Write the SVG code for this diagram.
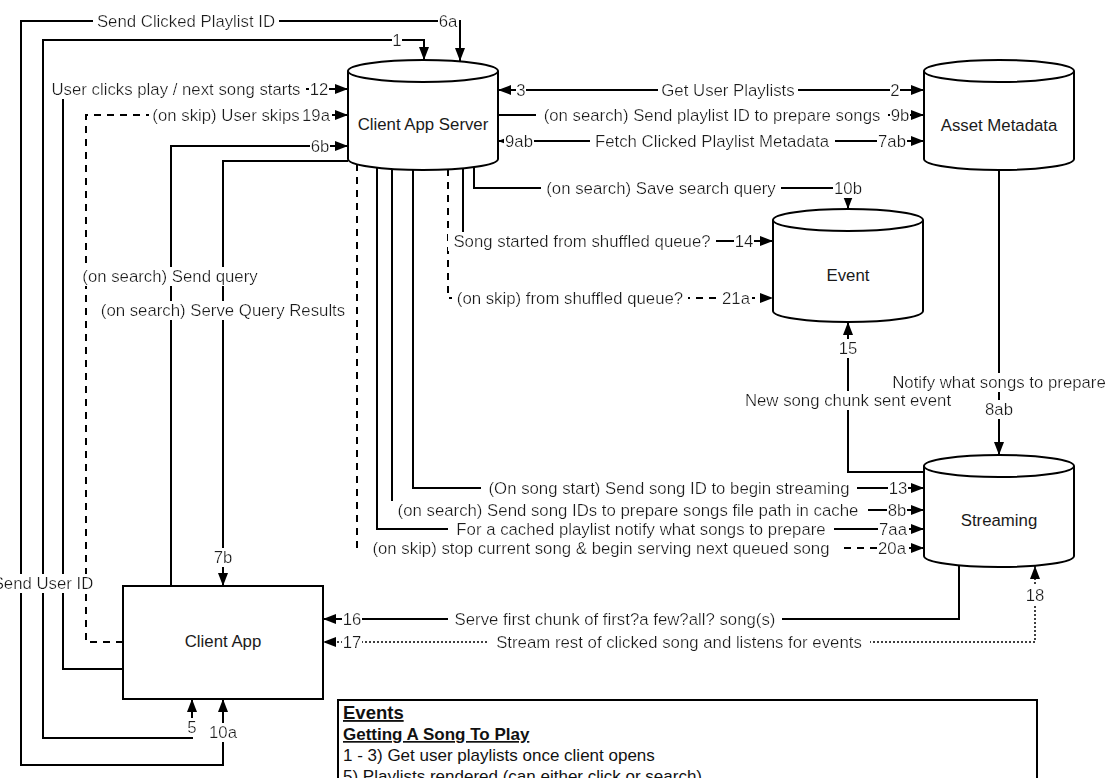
<svg xmlns="http://www.w3.org/2000/svg" width="1116" height="778" viewBox="0 0 1116 778">
<style>
.nd{fill:#fff;stroke:#000;stroke-width:2}
.ln{fill:none;stroke:#000;stroke-width:2}
.ds{stroke-dasharray:7 6}
.dt{stroke-dasharray:2 2;stroke-width:1.5}
.lb{font-family:"Liberation Sans",Arial,sans-serif;font-size:16.8px;fill:#1a1a1a;text-anchor:middle;filter:url(#bg)}
.nt{font-family:"Liberation Sans",Arial,sans-serif;font-size:16.8px;fill:#1a1a1a;text-anchor:middle}
.ev{font-family:"Liberation Sans",Arial,sans-serif;font-size:17px;fill:#111}
.evb{font-weight:bold;text-decoration:underline}
</style>
<defs>
<filter id="bg" x="-0.02" y="0" width="1.04" height="1"><feFlood flood-color="#fff"/><feComposite in="SourceGraphic"/></filter>
<marker id="ah" viewBox="0 0 13 10" refX="13" refY="5" markerWidth="13" markerHeight="10" markerUnits="userSpaceOnUse" orient="auto-start-reverse"><path d="M0,0 L13,5 L0,10 z" fill="#000"/></marker>
</defs>
<rect width="1116" height="778" fill="#fff"/>

<g id="cas">
<path class="nd" d="M348,71 A75,11 0 0 1 498,71 L498,159 A75,11 0 0 1 348,159 Z"/>
<path class="ln" d="M348,71 A75,11 0 0 0 498,71"/>
<text class="nt" x="423" y="130">Client App Server</text>
</g>
<g id="asset">
<path class="nd" d="M924,71 A75,11 0 0 1 1074,71 L1074,159 A75,11 0 0 1 924,159 Z"/>
<path class="ln" d="M924,71 A75,11 0 0 0 1074,71"/>
<text class="nt" x="999" y="131">Asset Metadata</text>
</g>
<g id="event">
<path class="nd" d="M773,220 A75,11 0 0 1 923,220 L923,311 A75,11 0 0 1 773,311 Z"/>
<path class="ln" d="M773,220 A75,11 0 0 0 923,220"/>
<text class="nt" x="848" y="281">Event</text>
</g>
<g id="streaming">
<path class="nd" d="M924,466 A75,11 0 0 1 1074,466 L1074,556 A75,11 0 0 1 924,556 Z"/>
<path class="ln" d="M924,466 A75,11 0 0 0 1074,466"/>
<text class="nt" x="999" y="526">Streaming</text>
</g>
<g id="clientapp">
<rect class="nd" x="123" y="586" width="200" height="113"/>
<text class="nt" x="223" y="647">Client App</text>
</g>
<g id="eventsbox">
<rect class="nd" x="338" y="700" width="699" height="110"/>
<text class="ev evb" x="343" y="719" style="font-size:18.5px">Events</text>
<text class="ev evb" x="343" y="740">Getting A Song To Play</text>
<text class="ev" x="343" y="761">1 - 3) Get user playlists once client opens</text>
<text class="ev" x="343" y="782">5) Playlists rendered (can either click or search)</text>
</g>

<g id="connectors">
<path class="ln" d="M223,699 L223,765 L21,765 L21,21 L460,21 L460,61" marker-start="url(#ah)" marker-end="url(#ah)"/>
<path class="ln" d="M192,699 L192,738 L43,738 L43,40 L424,40 L424,60" marker-start="url(#ah)" marker-end="url(#ah)"/>
<path class="ln" d="M123,669 L63,669 L63,89 L348,89" marker-end="url(#ah)"/>
<path class="ln ds" d="M123,642 L86,642 L86,115 L348,115" marker-end="url(#ah)"/>
<path class="ln" d="M171,586 L171,146 L348,146" marker-end="url(#ah)"/>
<path class="ln" d="M348,161 L223,161 L223,586" marker-end="url(#ah)"/>
<path class="ln" d="M498,90 L924,90" marker-start="url(#ah)" marker-end="url(#ah)"/>
<path class="ln" d="M498,115 L924,115" marker-end="url(#ah)"/>
<path class="ln" d="M498,141 L924,141" marker-start="url(#ah)" marker-end="url(#ah)"/>
<path class="ln" d="M474,167 L474,188 L848,188 L848,209" marker-end="url(#ah)"/>
<path class="ln" d="M463,168 L463,241 L773,241" marker-end="url(#ah)"/>
<path class="ln ds" d="M448,169 L448,298 L773,298" marker-end="url(#ah)"/>
<path class="ln" d="M413,170 L413,488 L924,488" marker-end="url(#ah)"/>
<path class="ln" d="M392,169 L392,510 L924,510" marker-end="url(#ah)"/>
<path class="ln" d="M377,168 L377,529 L924,529" marker-end="url(#ah)"/>
<path class="ln ds" d="M357,164 L357,548 L924,548" marker-end="url(#ah)"/>
<path class="ln" d="M924,472 L848,472 L848,322" marker-end="url(#ah)"/>
<path class="ln" d="M999,170 L999,455" marker-end="url(#ah)"/>
<path class="ln" d="M959,565 L959,619 L323,619" marker-end="url(#ah)"/>
<path class="ln dt" d="M1035,566 L1035,642 L323,642" marker-start="url(#ah)" marker-end="url(#ah)"/>

<text class="lb" x="186" y="27">Send Clicked Playlist ID</text>
<text class="lb" x="448" y="27">6a</text>
<text class="lb" x="223" y="738">10a</text>
<text class="lb" x="397" y="46">1</text>
<text class="lb" x="192" y="733">5</text>
<text class="lb" x="43" y="589">Send User ID</text>
<text class="lb" x="176" y="95">User clicks play / next song starts</text>
<text class="lb" x="319" y="95">12</text>
<text class="lb" x="226" y="121">(on skip) User skips</text>
<text class="lb" x="316" y="121">19a</text>
<text class="lb" x="320" y="152">6b</text>
<text class="lb" x="170" y="282">(on search) Send query</text>
<text class="lb" x="223" y="316">(on search) Serve Query Results</text>
<text class="lb" x="223" y="563">7b</text>
<text class="lb" x="521" y="96">3</text>
<text class="lb" x="728" y="96">Get User Playlists</text>
<text class="lb" x="895" y="96">2</text>
<text class="lb" x="712" y="121">(on search) Send playlist ID to prepare songs</text>
<text class="lb" x="900" y="121">9b</text>
<text class="lb" x="519" y="147">9ab</text>
<text class="lb" x="712" y="147">Fetch Clicked Playlist Metadata</text>
<text class="lb" x="892" y="147">7ab</text>
<text class="lb" x="661" y="194">(on search) Save search query</text>
<text class="lb" x="848" y="194">10b</text>
<text class="lb" x="582" y="247">Song started from shuffled queue?</text>
<text class="lb" x="744" y="247">14</text>
<text class="lb" x="570" y="304">(on skip) from shuffled queue?</text>
<text class="lb" x="736" y="304">21a</text>
<text class="lb" x="669" y="494">(On song start) Send song ID to begin streaming</text>
<text class="lb" x="898" y="494">13</text>
<text class="lb" x="628" y="516">(on search) Send song IDs to prepare songs file path in cache</text>
<text class="lb" x="897" y="516">8b</text>
<text class="lb" x="641" y="535">For a cached playlist notify what songs to prepare</text>
<text class="lb" x="893" y="535">7aa</text>
<text class="lb" x="601" y="554">(on skip) stop current song &amp; begin serving next queued song</text>
<text class="lb" x="892" y="554">20a</text>
<text class="lb" x="848" y="354">15</text>
<text class="lb" x="848" y="406">New song chunk sent event</text>
<text class="lb" x="999" y="388">Notify what songs to prepare</text>
<text class="lb" x="999" y="415">8ab</text>
<text class="lb" x="352" y="625">16</text>
<text class="lb" x="615" y="625">Serve first chunk of first?a few?all? song(s)</text>
<text class="lb" x="352" y="648">17</text>
<text class="lb" x="679" y="648">Stream rest of clicked song and listens for events</text>
<text class="lb" x="1035" y="601">18</text>
</g>
</svg>
